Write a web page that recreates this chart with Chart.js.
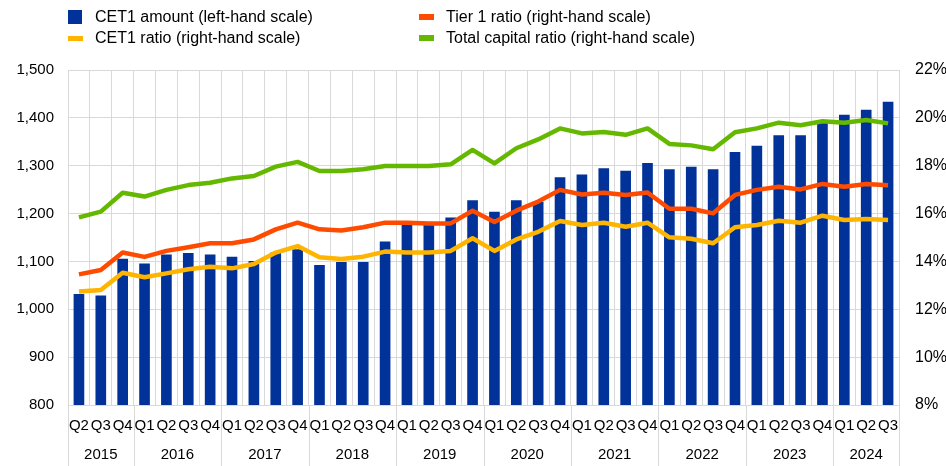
<!DOCTYPE html>
<html>
<head>
<meta charset="utf-8">
<script src="https://cdn.jsdelivr.net/npm/chart.js@4/dist/chart.umd.min.js"></script>
<style>
  html, body { margin: 0; padding: 0; background: #fff; }
  #wrap { position: relative; width: 946px; height: 466px; font-family: "Liberation Sans", Arial, sans-serif; }
  #legend { position: absolute; left: 0; top: 0; width: 946px; height: 60px; font-size: 16px; color: #000; }
  .item { position: absolute; white-space: nowrap; line-height: 18px; }
  .mark { position: absolute; }
</style>
</head>
<body>
<div id="wrap">
  <canvas id="chart" width="946" height="466"></canvas>
  <div id="legend"></div>
</div>
<script>
// quarters, 2015 Q2 - 2024 Q3
const quarterLabels = [
  'Q2', 'Q3', 'Q4',
  'Q1', 'Q2', 'Q3', 'Q4',
  'Q1', 'Q2', 'Q3', 'Q4',
  'Q1', 'Q2', 'Q3', 'Q4',
  'Q1', 'Q2', 'Q3', 'Q4',
  'Q1', 'Q2', 'Q3', 'Q4',
  'Q1', 'Q2', 'Q3', 'Q4',
  'Q1', 'Q2', 'Q3', 'Q4',
  'Q1', 'Q2', 'Q3', 'Q4',
  'Q1', 'Q2', 'Q3'
];
const yearLabels = ['2015', '2016', '2017', '2018', '2019', '2020', '2021', '2022', '2023', '2024'];
const quartersPerYear = [3, 4, 4, 4, 4, 4, 4, 4, 4, 3];

// CET1 amount (left-hand scale)
const cet1Amount = [
  1031, 1028, 1105,
  1095, 1114, 1117, 1114,
  1109, 1100, 1118, 1125,
  1092, 1098, 1098, 1141,
  1176, 1176, 1191, 1227,
  1203, 1227, 1224, 1275,
  1281, 1294, 1289, 1305,
  1292, 1297, 1292, 1328,
  1341, 1363, 1363, 1390,
  1406, 1416, 1433
];

// ratios, % (right-hand scale)
const cet1Ratio = [
  12.74, 12.81, 13.53,
  13.34, 13.50, 13.67, 13.78,
  13.71, 13.89, 14.37, 14.64,
  14.17, 14.10, 14.20, 14.41,
  14.37, 14.37, 14.44, 14.97,
  14.44, 14.92, 15.24, 15.69,
  15.52, 15.62, 15.45, 15.62,
  15.01, 14.95, 14.76, 15.43,
  15.52, 15.70, 15.62, 15.91,
  15.73, 15.77, 15.73
];
const tier1Ratio = [
  13.46, 13.64, 14.37,
  14.19, 14.44, 14.59, 14.76,
  14.76, 14.92, 15.34, 15.62,
  15.34, 15.29, 15.43, 15.62,
  15.62, 15.59, 15.59, 16.12,
  15.65, 16.12, 16.50, 16.99,
  16.80, 16.87, 16.78, 16.88,
  16.20, 16.20, 16.01, 16.78,
  16.99, 17.12, 17.01, 17.24,
  17.12, 17.24, 17.18
];
const totalCapitalRatio = [
  15.84, 16.08, 16.87,
  16.71, 16.99, 17.19, 17.29,
  17.47, 17.57, 17.96, 18.16,
  17.78, 17.78, 17.85, 17.99,
  17.99, 17.99, 18.06, 18.66,
  18.10, 18.73, 19.10, 19.56,
  19.35, 19.41, 19.29, 19.56,
  18.91, 18.85, 18.69, 19.40,
  19.56, 19.80, 19.69, 19.86,
  19.80, 19.91, 19.77
];

const COLORS = {
  blue: '#003299',
  yellow: '#FFB400',
  orange: '#FF4B00',
  green: '#65B800',
  grid: '#d9d9d9'
};
const FONT = { family: '"Liberation Sans", Arial, sans-serif', size: 15 };

// html legend, two columns
const legendItems = [
  { text: 'CET1 amount (left-hand scale)', color: COLORS.blue, x: 68, y: 8, w: 14, h: 14 },
  { text: 'Tier 1 ratio (right-hand scale)', color: COLORS.orange, x: 419, y: 8, w: 15, h: 6 },
  { text: 'CET1 ratio (right-hand scale)', color: COLORS.yellow, x: 68, y: 29, w: 15, h: 5 },
  { text: 'Total capital ratio (right-hand scale)', color: COLORS.green, x: 419, y: 29, w: 15, h: 6 }
];
const legendNode = document.getElementById('legend');
legendItems.forEach((item) => {
  const mark = document.createElement('div');
  mark.className = 'mark';
  mark.style.left = `${item.x}px`;
  mark.style.top = `${item.y + (18 - item.h) / 2}px`;
  mark.style.width = `${item.w}px`;
  mark.style.height = `${item.h}px`;
  mark.style.background = item.color;
  legendNode.appendChild(mark);

  const label = document.createElement('div');
  label.className = 'item';
  label.style.left = `${item.x + 27}px`;
  label.style.top = `${item.y}px`;
  label.textContent = item.text;
  legendNode.appendChild(label);
});

// year row under the quarter labels, with separators
const yearRowPlugin = {
  id: 'yearRow',
  afterDraw(chart) {
    const ctx = chart.ctx;
    const xScale = chart.scales.x;
    const area = chart.chartArea;
    const half = (xScale.getPixelForValue(1) - xScale.getPixelForValue(0)) / 2;

    ctx.save();
    ctx.strokeStyle = COLORS.grid;
    ctx.lineWidth = 1;
    ctx.fillStyle = '#000';
    ctx.font = `${FONT.size}px ${FONT.family}`;
    ctx.textAlign = 'center';
    ctx.textBaseline = 'middle';

    let idx = 0;
    yearLabels.forEach((year, i) => {
      const left = xScale.getPixelForValue(idx) - half;
      const right = xScale.getPixelForValue(idx + quartersPerYear[i] - 1) + half;

      ctx.beginPath();
      ctx.moveTo(Math.round(left) + 0.5, area.bottom);
      ctx.lineTo(Math.round(left) + 0.5, chart.height);
      if (i === yearLabels.length - 1) {
        ctx.moveTo(Math.round(right) + 0.5, area.bottom);
        ctx.lineTo(Math.round(right) + 0.5, chart.height);
      }
      ctx.stroke();

      ctx.fillText(year, (left + right) / 2, 455);
      idx += quartersPerYear[i];
    });
    ctx.restore();
  }
};

const lineDataset = (label, data, color) => ({
  type: 'line',
  label,
  data,
  yAxisID: 'y1',
  borderColor: color,
  backgroundColor: color,
  borderWidth: 4.5,
  pointRadius: 0,
  tension: 0,
  borderJoinStyle: 'round',
  order: 1
});

new Chart(document.getElementById('chart'), {
  type: 'bar',
  data: {
    labels: quarterLabels,
    datasets: [
      {
        label: 'CET1 amount (left-hand scale)',
        data: cet1Amount,
        yAxisID: 'y',
        backgroundColor: COLORS.blue,
        barThickness: 10,
        order: 2
      },
      lineDataset('CET1 ratio (right-hand scale)', cet1Ratio, COLORS.yellow),
      lineDataset('Tier 1 ratio (right-hand scale)', tier1Ratio, COLORS.orange),
      lineDataset('Total capital ratio (right-hand scale)', totalCapitalRatio, COLORS.green)
    ]
  },
  options: {
    responsive: false,
    animation: false,
    layout: { padding: { top: 70, left: 0, right: 0, bottom: 0 } },
    plugins: {
      legend: { display: false },
      tooltip: { enabled: false }
    },
    scales: {
      x: {
        offset: true,
        grid: { color: COLORS.grid, offset: true, drawTicks: false },
        border: { color: COLORS.grid },
        ticks: { color: '#000', font: FONT, padding: 12, maxRotation: 0, autoSkip: false },
        afterFit: (scale) => { scale.height = 61; }
      },
      y: {
        position: 'left',
        min: 800,
        max: 1500,
        grid: { color: COLORS.grid, drawTicks: false },
        border: { color: COLORS.grid },
        ticks: {
          stepSize: 100,
          color: '#000',
          font: FONT,
          padding: 14,
          callback: (v) => v.toLocaleString('en-US')
        },
        afterFit: (scale) => { scale.width = 68; }
      },
      y1: {
        position: 'right',
        min: 8,
        max: 22,
        grid: { drawOnChartArea: false, drawTicks: false },
        border: { color: COLORS.grid },
        ticks: {
          stepSize: 2,
          color: '#000',
          font: { family: FONT.family, size: 16 },
          padding: 16,
          callback: (v) => `${v}%`
        },
        afterFit: (scale) => { scale.width = 47; }
      }
    }
  },
  plugins: [yearRowPlugin]
});
</script>
</body>
</html>
